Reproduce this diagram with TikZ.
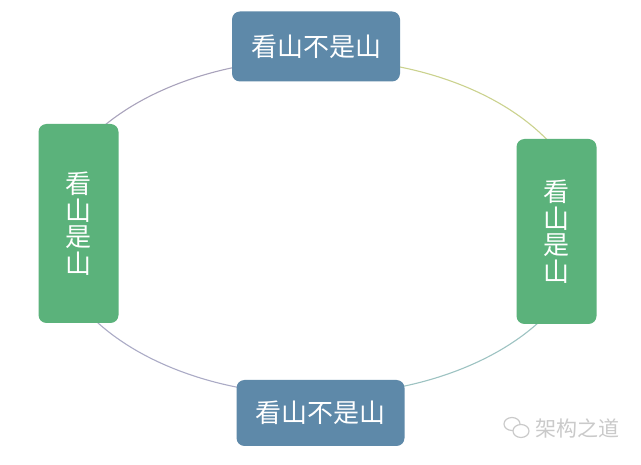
\documentclass[tikz,border=0pt]{standalone}
\usepackage{fontspec}
\newfontfamily\cjk{Noto Sans CJK SC}
\definecolor{boxblue}{HTML}{5E89A9}
\definecolor{boxgreen}{HTML}{5BB27B}
\definecolor{arcA}{HTML}{A9A3BC}
\definecolor{arcB}{HTML}{CBD28E}
\definecolor{arcC}{HTML}{9DC3C2}
\definecolor{arcD}{HTML}{ABABC6}
\definecolor{wm}{HTML}{CACACA}
\tikzset{
  hbox/.style={draw=none, fill=boxblue, rounded corners=8pt, minimum width=168pt, minimum height=70pt, text=white, font=\cjk\fontsize{26}{28}\selectfont, inner sep=0pt},
  vbox/.style={draw=none, fill=boxgreen, rounded corners=8pt, minimum width=80pt, text=white, font=\cjk\fontsize{26}{26.5}\selectfont, align=center, inner sep=0pt},
  ring/.style={line width=1.1pt}
}
\begin{document}
\begin{tikzpicture}[x=1pt,y=-1pt]
\useasboundingbox[fill=white] (0,0) rectangle (641,465);
% ring behind boxes
\coordinate (c) at (318,227);
\draw[ring,arcB] (586,227) arc[start angle=0,end angle=90,x radius=268pt,y radius=168pt];
\draw[ring,arcA] (318,59) arc[start angle=90,end angle=180,x radius=268pt,y radius=168pt];
\draw[ring,arcD] (50,227) arc[start angle=180,end angle=270,x radius=268pt,y radius=168pt];
\draw[ring,arcC] (318,395) arc[start angle=270,end angle=360,x radius=268pt,y radius=168pt];
% boxes
\node[hbox] (top) at (316,46.5) {看山不是山};
\node[hbox, minimum height=66pt] (bottom) at (320.5,413) {看山不是山};
\node[vbox, minimum height=199pt] (left) at (78.5,223.5) {看\\山\\是\\山};
\node[vbox, minimum height=185pt] (right) at (556.5,231.5) {看\\山\\是\\山};
% watermark
\node[text=wm, font=\cjk\fontsize{21}{22}\selectfont, anchor=west, inner sep=0pt] (wmtext) at (535,428) {架构之道};
\draw[wm, line width=1.2pt] (512,424) ellipse [x radius=8pt, y radius=6.5pt];
\draw[wm, line width=1.2pt, fill=white] (521,431) ellipse [x radius=8pt, y radius=6.5pt];
\end{tikzpicture}
\end{document}
